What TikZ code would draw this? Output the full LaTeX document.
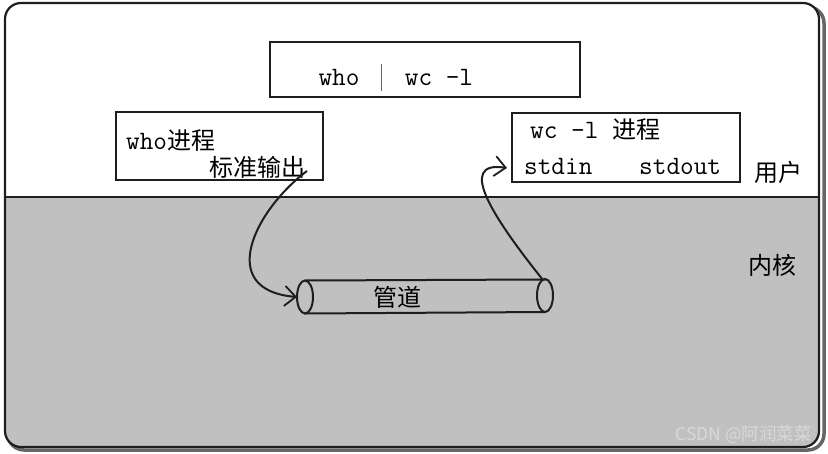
\documentclass[tikz,border=0pt]{standalone}
\usepackage{fontspec}
\newfontfamily\cjk{Noto Sans CJK SC}
\usetikzlibrary{arrows.meta}
\definecolor{kernelgray}{RGB}{192,192,192}
\definecolor{pencil}{RGB}{30,30,30}
\tikzset{
  procbox/.style={draw=pencil, line width=2pt, fill=white, inner sep=0pt},
  txt/.style={inner sep=0pt, anchor=center, font=\ttfamily\fontsize{26.5}{26.5}\selectfont},
  cjktxt/.style={inner sep=0pt, anchor=center, font=\cjk\fontsize{24}{24}\selectfont},
  flow/.style={draw=pencil, line width=2pt, -{Straight Barb[length=11pt,width=20pt,line width=1.8pt]}},
}
\begin{document}
\begin{tikzpicture}[x=1pt,y=-1pt]
\useasboundingbox (0,0) rectangle (828,453);
% outer frame with shadow
\draw[line width=3.5pt, draw=black!60, rounded corners=16pt] (8,7) rectangle (824,450);
\begin{scope}
\clip[rounded corners=16pt] (5,3) rectangle (819,447);
\fill[white] (0,0) rectangle (828,197);
\fill[kernelgray] (0,197) rectangle (828,453);
\end{scope}
\draw[line width=2.2pt, draw=pencil, rounded corners=16pt] (5,3) rectangle (819,447);
\draw[line width=2.6pt, draw=pencil] (6,197) -- (818,197);
% command box
\node[procbox, minimum width=310pt, minimum height=55pt] (cmd) at (425,69.5) {};
\node[txt] (who) at (339,77) {who};
\draw[line width=0.8pt, draw=black!60] (381,64) -- (381,91);
\node[txt] (wcl) at (439,77) {wc -l};
% who process
\node[procbox, minimum width=207pt, minimum height=68pt] (whop) at (219.5,146) {};
\node[txt, anchor=west] (whot) at (126,141) {who{\cjk\fontsize{24}{24}\selectfont 进程}};
\node[cjktxt, anchor=west] (stdo) at (209,167) {标准输出};
% wc process
\node[procbox, minimum width=228pt, minimum height=69pt] (wcp) at (626,147.5) {};
\node[txt, anchor=west] (wct) at (530,130) {wc -l {\cjk\fontsize{24}{24}\selectfont 进程}};
\node[txt, anchor=west] (stdin) at (524,166) {stdin};
\node[txt, anchor=west] (stdout) at (639,166) {stdout};
% labels
\node[cjktxt] (user) at (778,172) {用户};
\node[cjktxt] (kernel) at (772,265) {内核};
% pipe
\node[inner sep=0pt, minimum width=240pt, minimum height=33pt] (pipe) at (425,296.5) {};
\coordinate (pl) at (305,297);
\coordinate (pr) at (545,295.5);
\draw[line width=2pt, draw=pencil] (305,280.5) -- (545,279.5);
\draw[line width=2pt, draw=pencil] (305,313.5) -- (545,312);
\draw[line width=2pt, draw=pencil] (pl) ellipse [x radius=8pt, y radius=16.5pt];
\draw[line width=2pt, draw=pencil] (pr) ellipse [x radius=8pt, y radius=16.5pt];
\node[cjktxt] (pipet) at (397,297) {管道};
% arrows
\coordinate (outstart) at (307,171);
\draw[flow] (outstart) .. controls (255,210) and (215,290) .. ([xshift=-8pt]pl);
\coordinate (instart) at (543,280);
\coordinate (inend) at (507,168);
\draw[flow] (instart) .. controls (495,220) and (455,160) .. (inend);
% watermark
\node[inner sep=0pt, anchor=east, font=\cjk\fontsize{17.5}{17.5}\selectfont, text=white!85!black] (wm) at (812,435) {CSDN @阿润菜菜};
\end{tikzpicture}
\end{document}
